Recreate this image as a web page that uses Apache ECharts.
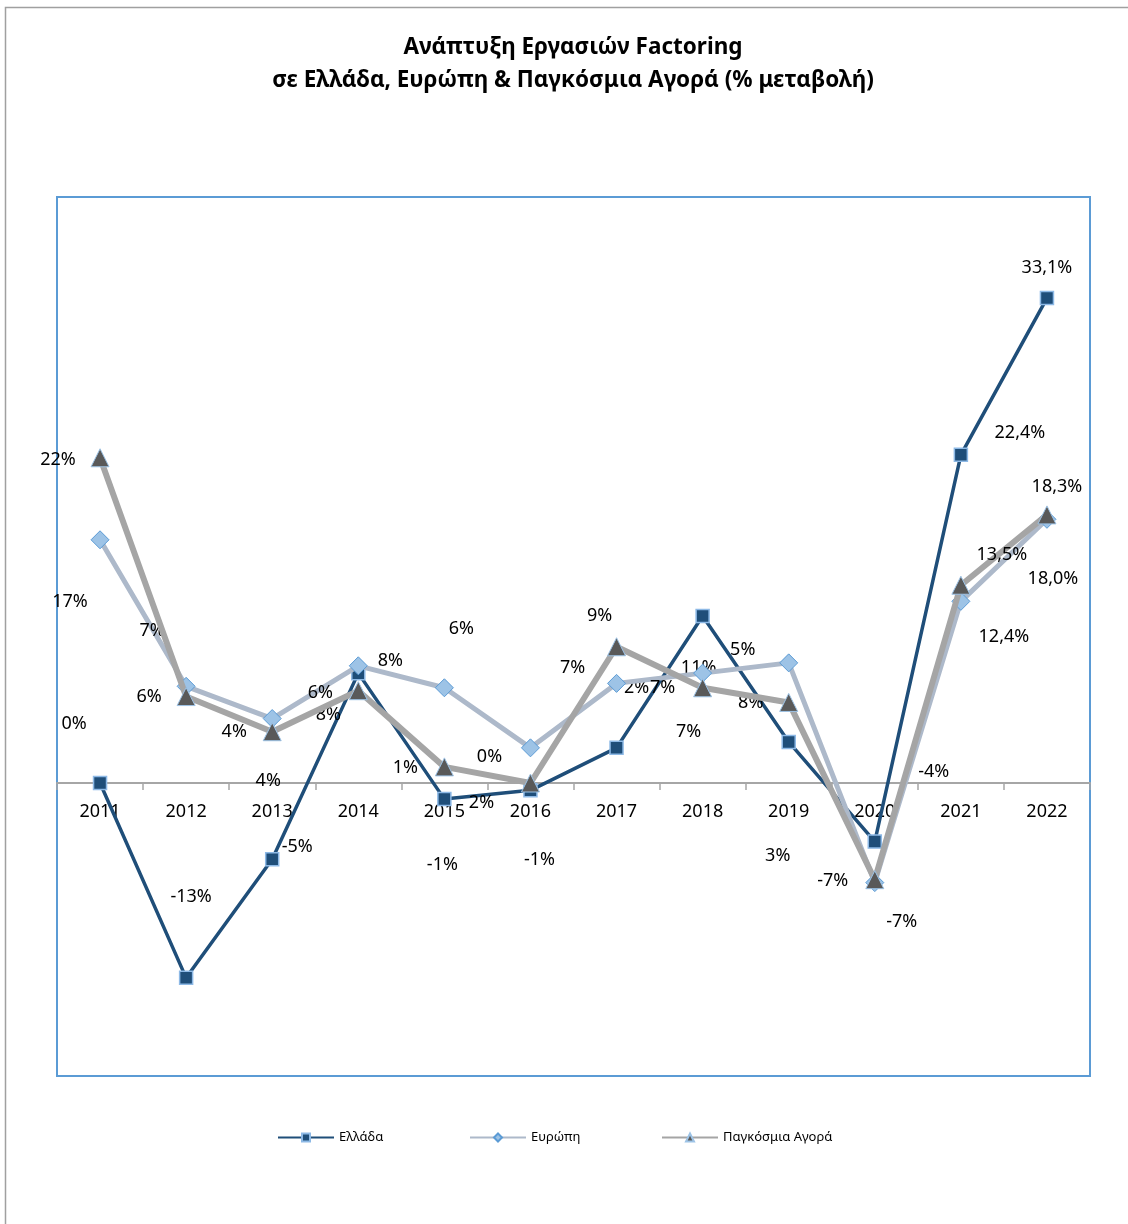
<!DOCTYPE html>
<html>
<head>
<meta charset="utf-8">
<script src="https://cdn.jsdelivr.net/npm/echarts@6/dist/echarts.min.js"></script>
<style>
html,body{margin:0;padding:0;background:#fff;}
#chart{width:1128px;height:1224px;}
</style>
</head>
<body>
<div id="chart"></div>
<script>
// ---- data ----
const years = ['2011','2012','2013','2014','2015','2016','2017','2018','2019','2020','2021','2022'];
const greece = [0, -13.3, -5.2, 7.5, -1.1, -0.5, 2.4, 11.4, 2.8, -4.0, 22.4, 33.1];
const europe = [16.6, 6.6, 4.4, 8.0, 6.5, 2.4, 6.8, 7.5, 8.2, -6.8, 12.4, 18.0];
const world  = [22.2, 5.9, 3.5, 6.3, 1.1, 0.0, 9.3, 6.5, 5.5, -6.6, 13.5, 18.3];
const greeceLabels = ['0%','-13%','-5%','8%','-1%','-1%','2%','11%','3%','-4%','22,4%','33,1%'];
const europeLabels = ['17%','7%','4%','8%','6%','2%','7%','7%','8%','-7%','12,4%','18,0%'];
const worldLabels  = ['22%','6%','4%','6%','1%','0%','9%','7%','5%','-7%','13,5%','18,3%'];
const seriesNames = ['Ελλάδα','Ευρώπη','Παγκόσμια Αγορά'];
const yMin = -20, yMax = 40;

// ---- label placement (style) ----
const greeceLabelOffsets = [[-26,-59],[5,-81],[25,-12],[-30,42],[-2,66],[9,70],[20,-60],[-4,52],[-11,114],[59,-70],[59,-22],[0,-30]];
const europeLabelOffsets = [[-30,62],[-34,-55],[-38,13],[32,-5],[17,-59],[-49,55],[-44,-16],[-40,15],[-38,40],[-42,-2],[43,36],[6,60]];
const worldLabelOffsets  = [[-42,2],[-37,0],[-4,49],[-38,2],[-39,1],[-41,-26],[-17,-31],[-14,44],[-46,-53],[27,42],[41,-30],[10,-28]];

const FONT = 'Noto Sans';
const GRID_TOP = 197, GRID_H = 879;
// distance from grid bottom up to the zero line (axis sits on the zero line)
const zeroOffset = -GRID_H * (0 - yMin) / (yMax - yMin);

function buildData(values, labels, offsets) {
  return values.map((v, i) => ({
    value: v,
    label: { formatter: labels[i], offset: offsets[i] }
  }));
}

const labelBase = {
  show: true,
  position: 'inside',
  align: 'center',
  verticalAlign: 'middle',
  color: '#000',
  fontFamily: FONT,
  fontSize: 18
};

function legendAt(name, left) {
  return {
    data: [name],
    left: left,
    top: 1126,
    itemWidth: 56,
    itemHeight: 10,
    itemGap: 0,
    textStyle: {fontFamily: FONT, fontSize: 13, color: '#000'}
  };
}

const chart = echarts.init(document.getElementById('chart'), null, {renderer: 'canvas'});
chart.setOption({
  animation: false,
  backgroundColor: '#fff',
  title: {
    text: 'Ανάπτυξη Εργασιών Factoring\nσε Ελλάδα, Ευρώπη & Παγκόσμια Αγορά (% μεταβολή)',
    left: 568,
    top: 26,
    textAlign: 'center',
    textStyle: {
      fontFamily: FONT,
      fontWeight: 'bold',
      fontSize: 22.5,
      lineHeight: 33,
      color: '#000'
    }
  },
  graphic: [{
    type: 'rect',
    shape: {x: 5.5, y: 7.5, width: 1300, height: 1400},
    style: {fill: 'none', stroke: '#A0A0A0', lineWidth: 1.5},
    silent: true
  }],
  legend: [
    legendAt(seriesNames[0], 272),
    legendAt(seriesNames[1], 464),
    legendAt(seriesNames[2], 656)
  ],
  grid: {
    left: 57,
    top: GRID_TOP,
    width: 1033,
    height: GRID_H,
    show: true,
    borderColor: '#5B9BD5',
    borderWidth: 2,
    backgroundColor: 'transparent'
  },
  xAxis: {
    type: 'category',
    data: years,
    boundaryGap: true,
    position: 'bottom',
    offset: zeroOffset,
    axisLine: {onZero: false, lineStyle: {color: '#A6A6A6', width: 2}},
    axisTick: {show: true, inside: false, length: 7, alignWithLabel: false, lineStyle: {color: '#A6A6A6', width: 1.5}},
    axisLabel: {fontFamily: FONT, fontSize: 18, color: '#000', margin: 20},
    splitLine: {show: false}
  },
  yAxis: {
    type: 'value',
    min: yMin,
    max: yMax,
    interval: 10,
    axisLine: {show: false},
    axisTick: {show: false},
    axisLabel: {show: false},
    splitLine: {show: false}
  },
  series: [
    {
      name: seriesNames[0],
      type: 'line',
      data: buildData(greece, greeceLabels, greeceLabelOffsets),
      symbol: 'rect',
      symbolSize: 13,
      lineStyle: {color: '#1F4E79', width: 3.5},
      itemStyle: {color: '#1F4E79', borderColor: '#8DB9E6', borderWidth: 1.5},
      label: labelBase,
      z: 2
    },
    {
      name: seriesNames[1],
      type: 'line',
      data: buildData(europe, europeLabels, europeLabelOffsets),
      symbol: 'diamond',
      symbolSize: 18,
      lineStyle: {color: '#ADB9CA', width: 5},
      itemStyle: {color: '#9DC3E6', borderColor: '#5B9BD5', borderWidth: 1},
      label: labelBase,
      z: 3
    },
    {
      name: seriesNames[2],
      type: 'line',
      data: buildData(world, worldLabels, worldLabelOffsets),
      symbol: 'triangle',
      symbolSize: 18,
      lineStyle: {color: '#A5A5A5', width: 6},
      itemStyle: {color: '#595959', borderColor: '#9DC3E6', borderWidth: 1},
      label: labelBase,
      z: 4
    }
  ]
});
</script>
</body>
</html>
